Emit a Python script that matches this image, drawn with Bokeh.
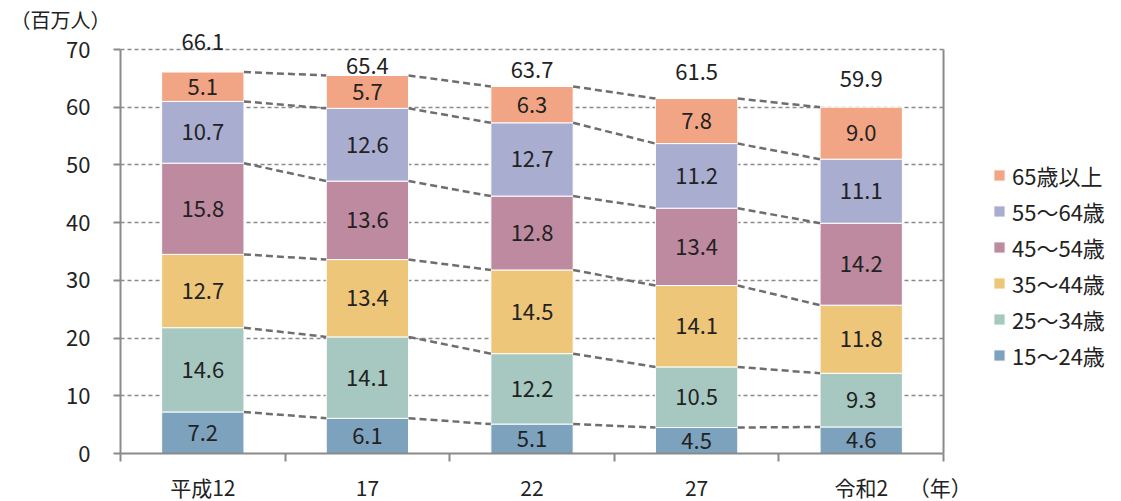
from bokeh.plotting import figure
from bokeh.models import (ColumnDataSource, FixedTicker, Legend, LegendItem, Title)
from bokeh.core.properties import value
from bokeh.embed import file_html
from bokeh.resources import INLINE

years = ["平成12", "17", "22", "27", "令和2"]
groups = ["15～24歳", "25～34歳", "35～44歳", "45～54歳", "55～64歳", "65歳以上"]
v15_24 = [7.2, 6.1, 5.1, 4.5, 4.6]
v25_34 = [14.6, 14.1, 12.2, 10.5, 9.3]
v35_44 = [12.7, 13.4, 14.5, 14.1, 11.8]
v45_54 = [15.8, 13.6, 12.8, 13.4, 14.2]
v55_64 = [10.7, 12.6, 12.7, 11.2, 11.1]
v65 = [5.1, 5.7, 6.3, 7.8, 9.0]
totals = [66.1, 65.4, 63.7, 61.5, 59.9]
y_ticks = [0, 10, 20, 30, 40, 50, 60, 70]
year_unit = "（年）"
value_unit = "（百万人）"

colors = ["#7DA2BD", "#A6C8C0", "#EEC679", "#BD8AA0", "#A9ADD0", "#F2A585"]
total_offsets = [-30, -9, -16, -27, -28]  # px (label placement style)

FONT = "Noto Sans CJK JP"
TXT = "#222222"
GRID = "#8a8a8a"

series = [v15_24, v25_34, v35_44, v45_54, v55_64, v65]
xc = [i + 0.5 for i in range(len(years))]
n = len(years)

TOP = 33          # frame top in px
PX = 404 / 70     # px per unit
y_end = 70 + (49 - TOP) / PX

p = figure(frame_width=825, frame_height=453 - TOP, x_range=(0, 5.012), y_range=(0, y_end),
           output_backend="svg", toolbar_location=None,
           min_border_left=120, min_border_right=0, min_border_top=TOP,
           min_border_bottom=48)
p.outline_line_color = None
p.background_fill_color = "white"

p.xgrid.grid_line_color = None
p.ygrid.grid_line_color = GRID
p.ygrid.grid_line_dash = "4 3"
p.ygrid.grid_line_width = 1.5
p.yaxis.ticker = FixedTicker(ticks=y_ticks)

p.segment(x0=[n], y0=[y_ticks[0]], x1=[n], y1=[y_ticks[-1]], line_color=GRID, line_width=2)

bottoms = [0.0] * n
renderers = []
cum_levels = []
for vals, col in zip(series, colors):
    tops = [b + v for b, v in zip(bottoms, vals)]
    src = ColumnDataSource(dict(x=xc, bottom=bottoms, top=tops,
                                mid=[(b + t) / 2 for b, t in zip(bottoms, tops)],
                                lbl=[f"{v:.1f}" for v in vals]))
    r = p.vbar(x="x", bottom="bottom", top="top", width=0.5, source=src,
               fill_color=col, line_color="white", line_width=1)
    renderers.append(r)
    p.text(x="x", y="mid", text="lbl", source=src, text_align="center",
           text_baseline="middle", text_font=value(FONT), text_font_size="22px",
           text_color=TXT)
    cum_levels.append(tops)
    bottoms = tops

for lev in cum_levels:
    xs, ys = [], []
    for i in range(n - 1):
        xs.append([xc[i] + 0.25, xc[i + 1] - 0.25])
        ys.append([lev[i], lev[i + 1]])
    p.multi_line(xs=xs, ys=ys, line_color="#6e6e6e", line_dash="7 4", line_width=2.5)

tsrc = ColumnDataSource(dict(x=xc, y=cum_levels[-1], lbl=[f"{t:.1f}" for t in totals],
                             off=total_offsets))
p.text(x="x", y="y", text="lbl", source=tsrc, y_offset="off",
       text_align="center", text_baseline="middle",
       text_font=value(FONT), text_font_size="22px", text_color=TXT)

p.yaxis.bounds = (y_ticks[0], y_ticks[-1])
p.yaxis.axis_line_color = GRID
p.yaxis.axis_line_width = 2
p.yaxis.major_tick_line_color = GRID
p.yaxis.major_tick_line_width = 2
p.yaxis.major_tick_out = 7
p.yaxis.major_tick_in = 0
p.yaxis.minor_tick_line_color = None
p.yaxis.major_label_standoff = 23
p.yaxis.major_label_text_font = FONT
p.yaxis.major_label_text_font_size = "22px"
p.yaxis.major_label_text_color = TXT

unit_x = 4.98
p.xaxis.bounds = (0, n)
p.xaxis.ticker = FixedTicker(ticks=xc + [unit_x], minor_ticks=list(range(n + 1)))
overrides = {x: y for x, y in zip(xc, years)}
overrides[unit_x] = year_unit
p.xaxis.major_label_overrides = overrides
p.xaxis.axis_line_color = GRID
p.xaxis.axis_line_width = 2
p.xaxis.major_tick_line_color = None
p.xaxis.major_tick_out = 0
p.xaxis.major_tick_in = 0
p.xaxis.minor_tick_line_color = GRID
p.xaxis.minor_tick_line_width = 2
p.xaxis.minor_tick_out = 8
p.xaxis.minor_tick_in = 0
p.xaxis.major_label_standoff = 10
p.xaxis.major_label_text_font = FONT
p.xaxis.major_label_text_font_size = "21px"
p.xaxis.major_label_text_color = TXT

p.add_layout(Title(text=value_unit, align="left", offset=-110, text_font=FONT,
                   text_font_size="20px", text_font_style="normal",
                   text_color=TXT, standoff=0), "above")

items = [LegendItem(label=g, renderers=[r]) for g, r in zip(groups, renderers)][::-1]
legend = Legend(items=items, location=(47, 82), border_line_color=None,
                label_text_font=FONT, label_text_font_size="22px",
                label_text_color=TXT, glyph_width=14, glyph_height=14,
                label_height=22, spacing=4, padding=0, margin=0,
                label_standoff=6, background_fill_alpha=0)
p.add_layout(legend, "right")

open("out.html", "w").write(file_html(p, INLINE))
